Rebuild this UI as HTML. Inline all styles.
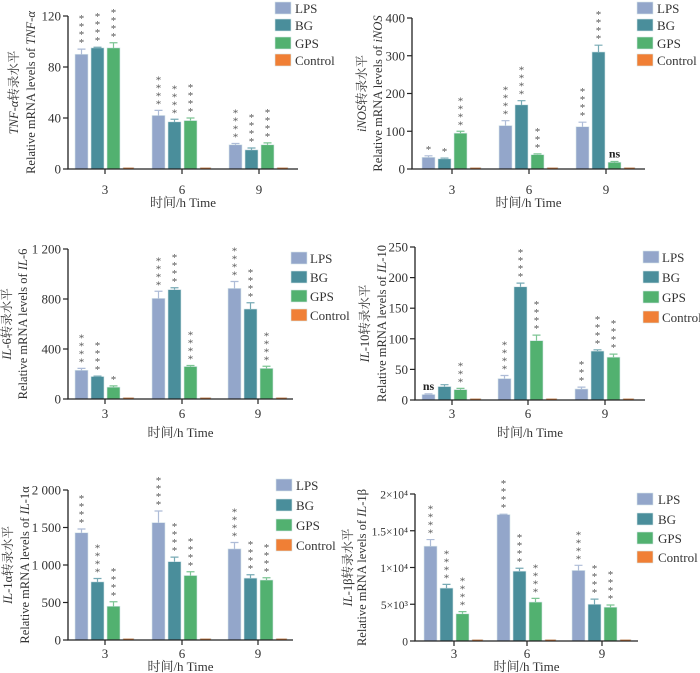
<!DOCTYPE html>
<html><head><meta charset="utf-8"><style>
html,body{margin:0;padding:0;background:#fff;}
svg{display:block;font-family:"Liberation Serif","Noto Serif CJK SC",serif;}
</style></head><body>
<svg id="fig" width="700" height="673" viewBox="0 0 700 673"></svg>
<script>
const timeCategories = ["3","6","9"];
const seriesNames = ["LPS","BG","GPS","Control"];
const seriesColors = ["#93a6ca","#4a8e9b","#52b170","#f07f35"];

const tnfLps = [90,42,19];
const tnfBg = [95,37,15];
const tnfGps = [95,38,19];
const tnfCtrl = [1,1,1];
const tnfErr = [[94,46,20],[95.5,39,16.5],[99,40,20.5]];
const tnfStars = [["****","****","****"],["****","****","****"],["****","****","****"]];
const tnfTicks = [0,40,80,120];
const tnfTickLabels = ["0","40","80","120"];

const inosLps = [31,115,112];
const inosBg = [27,170,310];
const inosGps = [95,38,18];
const inosCtrl = [2,2,2];
const inosErr = [[35,128,124],[29,181,328],[100,40,20]];
const inosStars = [["*","****","****"],["*","****","****"],["****","***","ns"]];
const inosTicks = [0,100,200,300,400];
const inosTickLabels = ["0","100","200","300","400"];

const il6Lps = [230,805,885];
const il6Bg = [180,875,720];
const il6Gps = [95,260,245];
const il6Ctrl = [5,5,5];
const il6Err = [[245,862,940],[183,890,770],[105,268,262]];
const il6Stars = [["****","****","****"],["****","****","****"],["*","****","****"]];
const il6Ticks = [0,400,800,1200];
const il6TickLabels = ["0","400","800","1 200"];

const il10Lps = [9,35,18];
const il10Bg = [22,185,80];
const il10Gps = [17,97,70];
const il10Ctrl = [2,2,2];
const il10Err = [[10,40,21],[25,191,82],[19,106,75]];
const il10Stars = [["ns","****","***"],["","****","****"],["***","****","****"]];
const il10Ticks = [0,50,100,150,200,250];
const il10TickLabels = ["0","50","100","150","200","250"];

const il1aLps = [1430,1565,1215];
const il1aBg = [775,1045,825];
const il1aGps = [450,860,800];
const il1aCtrl = [0,0,0];
const il1aErr = [[1480,1720,1300],[820,1105,870],[510,910,830]];
const il1aStars = [["****","****","****"],["****","****","****"],["****","****","****"]];
const il1aTicks = [0,500,1000,1500,2000];
const il1aTickLabels = ["0","500","1 000","1 500","2 000"];

const il1bLps = [12900,17200,9600];
const il1bBg = [7200,9500,5000];
const il1bGps = [3700,5300,4600];
const il1bCtrl = [0,0,0];
const il1bErr = [[13800,17250,10300],[7700,9900,5700],[4000,5800,4900]];
const il1bStars = [["****","****","****"],["****","****","****"],["****","****","****"]];
const il1bTicks = [0,5000,10000,15000,20000];
const il1bTickLabels = ["0","5×10³","1×10⁴","1.5×10⁴","2×10⁴"];

const NS = "http://www.w3.org/2000/svg";
const svg = document.getElementById("fig");
function mk(tag, attrs, parent, text){
  const e = document.createElementNS(NS, tag);
  for (const k in attrs) e.setAttribute(k, attrs[k]);
  if (text !== undefined) e.textContent = text;
  (parent||svg).appendChild(e);
  return e;
}

function drawPanel(p){
  const g = mk("g", {});
  
  
  const yScale = v => p.yBot - (v / p.max) * (p.yBot - p.yTop);
  const xCenter = i => p.centers[i];
  p.series.forEach((vals, s) => {
    vals.forEach((v, i) => {
      const x = xCenter(i) - 30 + s * 16;
      const w = s === 3 ? 11 : 13;
      const y = yScale(v);
      const h = Math.max(p.yBot - y, 1.6);
      const r = mk("rect", {x:x, y:p.yBot - h, width:w, height:h, fill:seriesColors[s], stroke:"#d8e6ea", "stroke-width":0.6}, g);
      
      
      if (s < 3) {
        const et = yScale(p.err[s][i]);
        const cx = x + w/2;
        const eb = mk("path", {d:`M${cx},${y} L${cx},${et} M${cx-4},${et} L${cx+4},${et}`, stroke:seriesColors[s], "stroke-width":1.2, fill:"none", opacity:0.75}, g);
        
        
        const st = p.stars[s][i];
        if (st === "ns") {
          const t = mk("text", {x:cx, y:et - 4, "text-anchor":"middle", "font-size":12, "font-weight":"bold", fill:"#222"}, g, "ns");
          
          
        } else {
          for (let k = 0; k < st.length; k++) {
            const t = mk("text", {x:cx, y:et + 5 - 8*(k+1), "text-anchor":"middle", "font-size":11, fill:"#555"}, g, "*");
            
            
          }
        }
      }
    });
  });
  const ax = mk("path", {d:`M${p.x0},${p.yTop} L${p.x0},${p.yBot} L${p.xEnd},${p.yBot}`, stroke:"#222", "stroke-width":1.3, fill:"none"}, g);
  
  
  p.ticks.forEach((v, i) => {
    const y = yScale(v);
    mk("line", {x1:p.x0-5, x2:p.x0, y1:y, y2:y, stroke:"#222", "stroke-width":1.2}, g);
    const t = mk("text", {x:p.x0-7, y:y+4.5, "text-anchor":"end", "font-size":p.tickFont||13, fill:"#333"}, g, p.tickLabels[i]);
    
    
  });
  timeCategories.forEach((c, i) => {
    const x = xCenter(i);
    mk("line", {x1:x, x2:x, y1:p.yBot, y2:p.yBot+5, stroke:"#222", "stroke-width":1.2}, g);
    const t = mk("text", {x:x, y:p.tickY, "text-anchor":"middle", "font-size":13, fill:"#333"}, g, c);
    
    
  });
  const xt = mk("text", {x:(p.x0+p.xEnd)/2, y:p.titleY, "text-anchor":"middle", "font-size":13, fill:"#333"}, g, "时间/h Time");
  
  
  const cy = (p.yTop + p.yBot)/2;
  const l1 = mk("text", {transform:`translate(${p.labelX[0]},${cy}) rotate(-90)`, "text-anchor":"middle", "font-size":12.5, fill:"#333"}, g);
  
  
  mk("tspan", {"font-style":"italic"}, l1, p.gene);
  mk("tspan", {}, l1, p.geneSuffix + "转录水平");
  const l2 = mk("text", {transform:`translate(${p.labelX[1]},${cy}) rotate(-90)`, "text-anchor":"middle", "font-size":12.5, fill:"#333"}, g);
  
  
  mk("tspan", {}, l2, "Relative mRNA levels of ");
  mk("tspan", {"font-style":"italic"}, l2, p.gene);
  mk("tspan", {}, l2, p.geneSuffix);
  seriesNames.forEach((n, s) => {
    const ry = p.rows[s];
    const sw = mk("rect", {x:p.legX, y:ry-6, width:16, height:12, fill:seriesColors[s], stroke:"#d8e6ea", "stroke-width":0.6}, g);
    
    
    const t = mk("text", {x:p.legTextX, y:ry+5, "font-size":13, fill:"#333"}, g, n);
    
    
  });
}

drawPanel({name:"tnf", gene:"TNF-α", geneSuffix:"", series:[tnfLps,tnfBg,tnfGps,tnfCtrl], err:tnfErr, stars:tnfStars, ticks:tnfTicks, tickLabels:tnfTickLabels, max:120,
  x0:68, yTop:16, yBot:169, xEnd:298, centers:[105,182,259], legX:275, legTextX:295, rows:[8,25,43,60], labelX:[18,35], tickY:194, titleY:207});
drawPanel({name:"inos", gene:"iNOS", geneSuffix:"", series:[inosLps,inosBg,inosGps,inosCtrl], err:inosErr, stars:inosStars, ticks:inosTicks, tickLabels:inosTickLabels, max:400,
  x0:412, yTop:18, yBot:169, xEnd:645, centers:[452,529,606], legX:637, legTextX:657, rows:[8,25,43,60], labelX:[366,382], tickY:194, titleY:207});
drawPanel({name:"il6", gene:"IL", geneSuffix:"-6", series:[il6Lps,il6Bg,il6Gps,il6Ctrl], err:il6Err, stars:il6Stars, ticks:il6Ticks, tickLabels:il6TickLabels, max:1200,
  x0:68, yTop:249, yBot:399, xEnd:293, centers:[105,182,258], legX:291, legTextX:310, rows:[258,277,296,315], labelX:[11,27], tickY:418, titleY:437});
drawPanel({name:"il10", gene:"IL", geneSuffix:"-10", series:[il10Lps,il10Bg,il10Gps,il10Ctrl], err:il10Err, stars:il10Stars, ticks:il10Ticks, tickLabels:il10TickLabels, max:250,
  x0:415, yTop:247, yBot:400, xEnd:645, centers:[452,528,605], legX:643, legTextX:662, rows:[257,277,297,317], labelX:[369,386], tickY:418, titleY:437});
drawPanel({name:"il1a", gene:"IL", geneSuffix:"-1α", series:[il1aLps,il1aBg,il1aGps,il1aCtrl], err:il1aErr, stars:il1aStars, ticks:il1aTicks, tickLabels:il1aTickLabels, max:2000,
  x0:68, yTop:490, yBot:640, xEnd:293, centers:[105,182,258], legX:276, legTextX:296, rows:[485,505,525,545], labelX:[12,29], tickY:658, titleY:671});
drawPanel({name:"il1b", gene:"IL", geneSuffix:"-1β", series:[il1bLps,il1bBg,il1bGps,il1bCtrl], err:il1bErr, stars:il1bStars, ticks:il1bTicks, tickLabels:il1bTickLabels, max:20000, tickFont:11.5,
  x0:415, yTop:494, yBot:641, xEnd:638, centers:[454,527,602], legX:637, legTextX:658, rows:[499,519,538,557], labelX:[352,366], tickY:658, titleY:671});
</script>
</body></html>
